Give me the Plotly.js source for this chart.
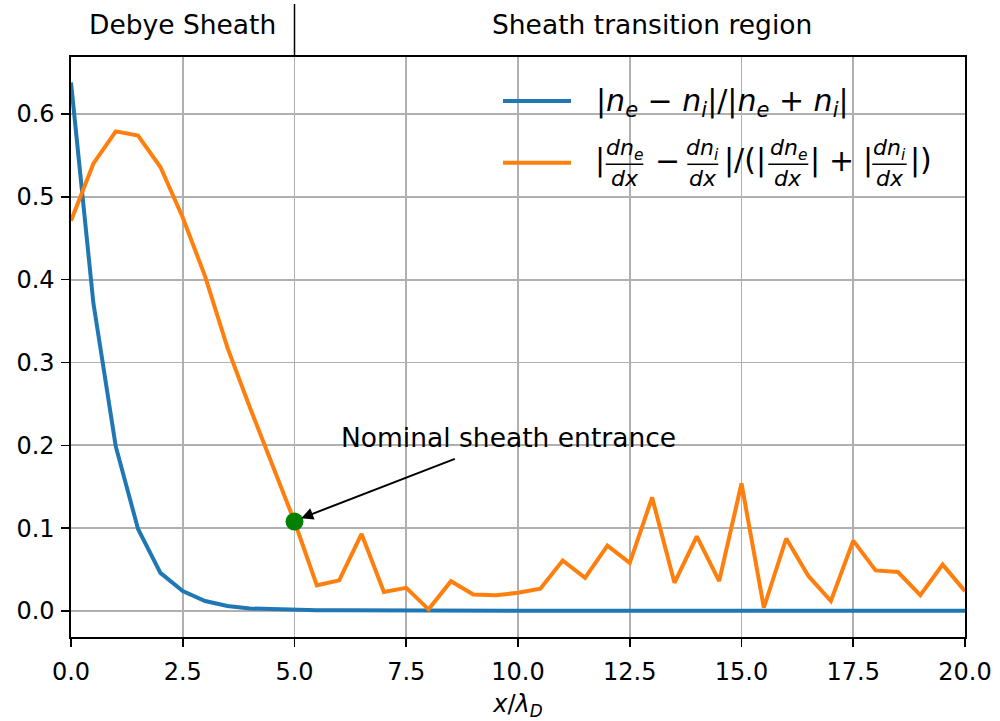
<!DOCTYPE html>
<html>
<head>
<meta charset="utf-8">
<script src="https://cdn.plot.ly/plotly-3.0.1.min.js"></script>
<style>html,body{margin:0;padding:0;background:#fff;}#chart{width:1000px;height:721px;}</style>
</head>
<body>
<div id="chart"></div>
<script>
// ---- data ----
const xPositions = [0,0.5,1,1.5,2,2.5,3,3.5,4,4.5,5,5.5,6,6.5,7,7.5,8,8.5,9,9.5,10,10.5,11,11.5,12,12.5,13,13.5,14,14.5,15,15.5,16,16.5,17,17.5,18,18.5,19,19.5,20];
const densityImbalance = [0.638,0.372,0.199,0.099,0.046,0.024,0.012,0.006,0.003,0.002,0.001,0.001,0.001,0.0008,0.0006,0.0005,0.0005,0.0004,0.0004,0.0004,0.0003,0.0003,0.0003,0.0003,0.0003,0.0003,0.0003,0.0003,0.0003,0.0003,0.0003,0.0003,0.0003,0.0003,0.0003,0.0003,0.0003,0.0003,0.0003,0.0003,0.0003];
const gradientImbalance = [0.471,0.540,0.579,0.574,0.536,0.475,0.404,0.318,0.246,0.178,0.108,0.031,0.037,0.093,0.023,0.028,0.002,0.036,0.020,0.019,0.022,0.027,0.061,0.040,0.079,0.058,0.137,0.034,0.090,0.036,0.154,0.004,0.0875,0.042,0.012,0.085,0.049,0.047,0.019,0.056,0.024];
const entranceX = [5];
const entranceY = [0.108];
const xTickVals = [0,2.5,5,7.5,10,12.5,15,17.5,20];
const xTickText = ["0.0","2.5","5.0","7.5","10.0","12.5","15.0","17.5","20.0"];
const yTickVals = [0,0.1,0.2,0.3,0.4,0.5,0.6];
const yTickText = ["0.0","0.1","0.2","0.3","0.4","0.5","0.6"];
const regionLabels = ["Debye Sheath","Sheath transition region"];
const annotationText = "Nominal sheath entrance";

// ---- layout helpers (pixel -> paper) ----
const L = 71, R = 965, T = 57, B = 637;
const P = px => (px - L) / (R - L);
const Q = py => (B - py) / (B - T);
const FONT = "DejaVu Sans";
const BLUE = "#1f77b4", ORANGE = "#ff7f0e";

const traces = [
  {x: xPositions, y: densityImbalance, type: "scatter", mode: "lines",
   line: {color: BLUE, width: 4}, showlegend: false, hoverinfo: "skip"},
  {x: xPositions, y: gradientImbalance, type: "scatter", mode: "lines",
   line: {color: ORANGE, width: 4}, showlegend: false, hoverinfo: "skip"},
  {x: entranceX, y: entranceY, type: "scatter", mode: "markers",
   marker: {color: "green", size: 18}, showlegend: false, hoverinfo: "skip"}
];

const annotations = [];
const shapes = [];
function txt(text, cx, cy, size, extra) {
  annotations.push(Object.assign({text: text, xref: "paper", yref: "paper",
    x: P(cx), y: Q(cy), xanchor: "center", yanchor: "middle", showarrow: false,
    font: {family: FONT, size: size, color: "#000"}}, extra || {}));
}
function frac(num, cx, x0, x1) {
  txt(num, cx, 149, 22);
  txt("<i>dx</i>", cx, 178, 22);
  shapes.push({type: "line", xref: "paper", yref: "paper", x0: P(x0), x1: P(x1),
    y0: Q(164.3), y1: Q(164.3), line: {color: "#000", width: 1.5}});
}

// region labels above the axes
txt(regionLabels[0], 182.5, 25, 26.5);
txt(regionLabels[1], 652, 25, 26.5);
shapes.push({type: "line", xref: "x", yref: "paper", x0: 5, x1: 5, y0: 1, y1: Q(4),
  line: {color: "#000", width: 1.5}});

// annotation text + arrow
annotations.push({text: annotationText, xref: "x", yref: "y", x: 6.0, y: 0.188,
  xanchor: "left", yanchor: "bottom", showarrow: false,
  font: {family: FONT, size: 26.5, color: "#000"}});
annotations.push({text: "", xref: "x", yref: "y", x: 5.15, y: 0.112,
  axref: "x", ayref: "y", ax: 8.62, ay: 0.1844, showarrow: true,
  arrowhead: 2, arrowsize: 1.2, arrowwidth: 2, arrowcolor: "#000"});

// custom legend
shapes.push({type: "line", xref: "paper", yref: "paper", x0: P(503), x1: P(571), y0: Q(101), y1: Q(101), line: {color: BLUE, width: 4}});
shapes.push({type: "line", xref: "paper", yref: "paper", x0: P(503), x1: P(571), y0: Q(162.7), y1: Q(162.7), line: {color: ORANGE, width: 4}});
annotations.push({text: "|<i>n</i><sub><i>e</i></sub> − <i>n</i><sub><i>i</i></sub>|/|<i>n</i><sub><i>e</i></sub> + <i>n</i><sub><i>i</i></sub>|",
  xref: "paper", yref: "paper", x: P(594), y: Q(102), xanchor: "left", yanchor: "middle",
  showarrow: false, font: {family: FONT, size: 30, color: "#000"}});
txt("|", 599.6, 160, 30);
frac("<i>dn</i><sub><i>e</i></sub>", 624.5, 605.7, 643.3);
txt("−", 667.5, 160, 30);
frac("<i>dn</i><sub><i>i</i></sub>", 702.8, 687.3, 718.3);
txt("|/(|", 745.2, 160, 30);
frac("<i>dn</i><sub><i>e</i></sub>", 788.3, 768.3, 808.3);
txt("|", 815, 160, 30);
txt("+", 841.7, 160, 30);
txt("|", 868.3, 160, 30);
frac("<i>dn</i><sub><i>i</i></sub>", 889.5, 872.3, 906.7);
txt("|)", 921, 160, 30);

const axisCommon = {showgrid: true, gridcolor: "#b0b0b0", gridwidth: 1.8, zeroline: false,
  showline: true, linecolor: "#000", linewidth: 1.6, mirror: true,
  ticks: "outside", ticklen: 8, tickwidth: 1.6, tickcolor: "#000",
  tickfont: {family: FONT, size: 24, color: "#000"}};

const layout = {
  width: 1000, height: 721,
  margin: {l: L, r: 1000 - R, t: T, b: 721 - B},
  paper_bgcolor: "#fff", plot_bgcolor: "#fff",
  xaxis: Object.assign({}, axisCommon, {range: [0, 20], tickmode: "array", tickvals: xTickVals, ticktext: xTickText,
    ticklabelstandoff: 5,
    title: {text: "<i>x</i>/<i>λ</i><sub><i>D</i></sub>", font: {family: FONT, size: 24, color: "#000"}, standoff: 14}}),
  yaxis: Object.assign({}, axisCommon, {range: [-0.0314, 0.6688], tickmode: "array", tickvals: yTickVals, ticktext: yTickText,
    ticklabelstandoff: 2}),
  shapes: shapes,
  annotations: annotations,
  showlegend: false
};

Plotly.newPlot("chart", traces, layout, {staticPlot: true, displayModeBar: false});
</script>
</body>
</html>
